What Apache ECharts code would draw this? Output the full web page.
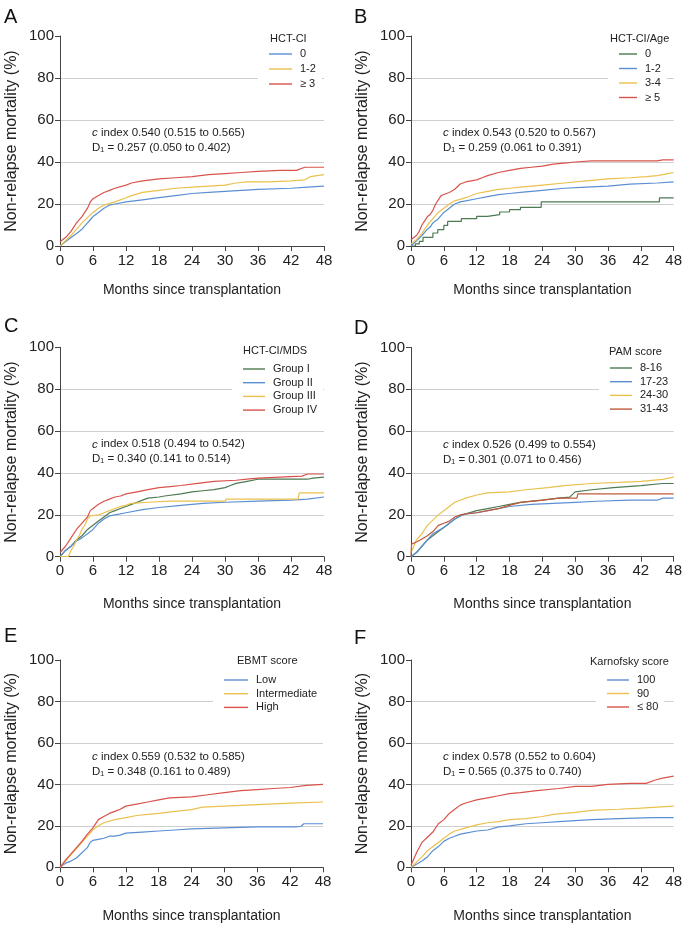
<!DOCTYPE html>
<html><head><meta charset="utf-8">
<script src="https://cdn.jsdelivr.net/npm/echarts@6/dist/echarts.min.js"></script>
<style>html,body{margin:0;padding:0;background:#fff}#c{width:685px;height:927px}</style>
</head><body><div id="c"></div>
<script>
// ---------- data (months, cumulative NRM %) ----------
const xTicks = [0, 6, 12, 18, 24, 30, 36, 42, 48];
const yTicks = [0, 20, 40, 60, 80, 100];
const panelLetters = ['A', 'B', 'C', 'D', 'E', 'F'];
const legendTitles = ['HCT-CI', 'HCT-CI/Age', 'HCT-CI/MDS', 'PAM score', 'EBMT score', 'Karnofsky score'];
const cIndexText = ['0.540 (0.515 to 0.565)', '0.543 (0.520 to 0.567)', '0.518 (0.494 to 0.542)', '0.526 (0.499 to 0.554)', '0.559 (0.532 to 0.585)', '0.578 (0.552 to 0.604)'];
const dText = ['0.257 (0.050 to 0.402)', '0.259 (0.061 to 0.391)', '0.340 (0.141 to 0.514)', '0.301 (0.071 to 0.456)', '0.348 (0.161 to 0.489)', '0.565 (0.375 to 0.740)'];

// A: HCT-CI
const A_names = ['0', '1-2', '≥ 3'];
const A_0 = [[0,0],[1,2],[2,4],[3,6],[4,8],[5,11],[5.5,12.5],[6,14],[7,16],[8,18],[9,19.5],[10,20],[12,21],[15,22],[18,23],[21,24],[24,25],[27,25.5],[30,26],[33,26.5],[36,27],[42,27.5],[45,28],[48,28.5]];
const A_12 = [[0,0],[1,2.5],[2,5],[3,8],[4,11],[5,13.5],[6,16],[7,18],[8,19.5],[10,21],[12,23],[13,24],[15,25.5],[18,26.5],[21,27.5],[24,28],[27,28.5],[30,29],[32,30],[34,30.5],[38,30.5],[42,31],[44.5,31.5],[45.5,33],[48,34]];
const A_3 = [[0,2],[1,4],[2,7],[3,11],[4,14],[5,18],[5.5,21],[6,22.5],[7,24],[8,25.5],[9,26.5],[10,27.5],[12,29],[13,30],[15,31],[18,32],[21,32.5],[24,33],[27,34],[30,34.5],[33,35],[36,35.5],[40,36],[43,36],[44.5,37.5],[48,37.5]];

// B: HCT-CI/Age
const B_names = ['0', '1-2', '3-4', '≥ 5'];
const B_0 = [[0,0],[0.8,1],[1.5,2.2],[2.2,4.1],[4,6.2],[4.9,7.8],[6,9.8],[6.7,11.7],[9.2,13],[12,14.1],[14,14.9],[16.2,16.2],[18,17.3],[20,18.4],[23.8,21],[45.4,22.9],[48,22.9]];
const B_12 = [[0,0],[1,2.5],[2,5],[3,8],[3.5,9],[4,11],[5,13],[6,16],[7,18],[7.5,19],[8,20],[9,21],[10,21.5],[12,22.5],[14,23.5],[16,24.5],[18,25],[20,25.5],[24,26.5],[28,27.5],[32,28],[36,28.5],[40,29.5],[45,30],[48,30.5]];
const B_34 = [[0,1],[1,3],[2,6],[3,10],[4,13],[5,16],[6,18],[7,20],[8,21.5],[10,23],[12,25],[14,26],[16,27],[18,27.5],[20,28],[24,29],[28,30],[32,31],[36,32],[40,32.5],[43,33],[45,33.5],[47,34.5],[48,35]];
const B_5 = [[0,3],[0.5,4],[1,5],[1.5,7],[2,10],[2.5,12],[3,14],[3.5,15],[4,17],[4.5,20],[5,22],[5.5,24],[6,24.5],[7,25.5],[8,27],[9,29.5],[10,30.5],[11,31],[12,31.5],[13,32.5],[14,33.5],[16,35],[18,36],[20,37],[22,37.5],[24,38],[26,39],[28,39.5],[30,40],[33,40.5],[45,40.5],[46,41],[48,41]];

// C: HCT-CI/MDS
const C_names = ['Group I', 'Group II', 'Group III', 'Group IV'];
const C_1 = [[0,0],[1,3],[2,5],[3,8],[4,10],[5,13],[6,15],[7,17],[8,19],[9,21],[10,22],[11,23],[12,24],[13,25],[14,26],[15,27],[16,28],[18,28.5],[19,29],[22,30],[24,31],[26,31.5],[28,32],[30,33],[31,34],[32,35],[34,36],[36,37],[45,37],[46,37.5],[48,38]];
const C_2 = [[0,0],[1,3],[2,5],[3,7.5],[4,9],[5,11],[6,13],[7,16],[8,18],[9,19.5],[10,20],[12,21],[15,22.5],[18,23.5],[22,24.5],[26,25.5],[30,26],[36,26.5],[42,27],[45,27.5],[48,28.5]];
const C_3 = [[0,0],[1.5,0],[2,3],[2.5,5],[3,8],[3.5,10],[4,13],[4.5,15],[5,18],[5.5,19.5],[7,20],[8,21],[9,22],[10,23],[11,24],[12,24.5],[13,25.5],[16,26],[20,26.5],[30,26.5],[30.2,27.5],[43.3,27.5],[43.5,30.5],[48,30.5]];
const C_4 = [[0,2],[1,5],[2,9],[3,13],[4,16],[5,19],[5.5,22],[6,23],[7,25],[8,26.5],[9,27.5],[10,28.5],[11,29],[12,30],[14,31],[16,32],[18,33],[20,33.5],[22,34],[25,35],[28,36],[32,36.5],[34,37],[36,37.5],[40,38],[44,38.5],[45,39.5],[48,39.5]];

// D: PAM score
const D_names = ['8-16', '17-23', '24-30', '31-43'];
const D_1 = [[0,0],[1,2],[2,5],[3,8],[4,10],[5,12],[6,14],[7,16],[8,18],[9,19.5],[10,20.5],[12,22],[14,23],[16,24],[18,25],[20,26],[24,27],[27,28],[29,28.5],[30,31],[33,32],[37,33],[42,34],[46,35],[48,35]];
const D_2 = [[0,0],[1,2],[2,5],[3,8],[4,11],[5,12.5],[6,14],[7,16],[8,18],[9,19.5],[10,20.5],[12,21],[15,22.5],[18,24],[22,25],[26,25.5],[30,26],[34,26.5],[40,27],[45,27],[46,28],[48,28]];
const D_3 = [[0,2],[0.5,5],[1,8],[2,11],[2.5,13],[3,15],[4,17.5],[5,20],[6,22],[7,24],[8,26],[9,27],[10,28],[12,29.5],[14,30.5],[18,31],[21,32],[25,33],[28,34],[33,35],[38,35.5],[42,36],[46,37],[48,38]];
const D_4 = [[0,0],[0.1,6],[1,7],[2,8.5],[3,10],[4,12],[5,15],[6,16],[7,17],[8,19],[9,20],[10,20.5],[12,21],[14,22],[16,23],[18,24.5],[20,26],[24,27],[27,28],[30.3,28],[30.5,30],[48,30]];

// E: EBMT score
const E_names = ['Low', 'Intermediate', 'High'];
const E_low = [[0,0],[1,2],[2,3],[3,4.5],[4,7],[5,9.5],[5.5,12],[6,13],[7,13.5],[8,14],[9,15],[10,15],[11,15.5],[12,16.5],[15,17],[18,17.5],[21,18],[24,18.5],[30,19],[36,19.5],[43,19.5],[44,19.8],[44.5,21],[48,21]];
const E_int = [[0,0],[1,3],[2,6],[3,9],[4,12],[5,15],[6,18],[7,20],[8,21.5],[10,23],[12,24],[14,25],[16,25.5],[18,26],[21,27],[24,27.8],[26,29],[30,29.5],[34,30],[38,30.5],[42,31],[48,31.5]];
const E_high = [[0,0],[1,3.5],[2,6.5],[3,9.5],[4,12.5],[5,16],[6,19],[7,23],[8,24.5],[9,26],[10,27],[11,28],[12,29.5],[14,30.5],[16,31.5],[18,32.5],[20,33.5],[24,34],[27,35],[30,36],[33,37],[36,37.5],[39,38],[42,38.5],[45,39.5],[48,40]];

// F: Karnofsky score
const F_names = ['100', '90', '≤ 80'];
const F_100 = [[0,0],[1,1.5],[2,3],[3,5],[4,8],[5,10],[6,12.5],[7,14],[8,15],[9,16],[10,16.5],[12,17.5],[14,18],[16,19.5],[18,20],[21,21],[24,21.5],[27,22],[30,22.5],[33,23],[38,23.5],[44,24],[48,24]];
const F_90 = [[0,0],[1,2.5],[2,5],[3,8],[4,10],[5,12],[6,14],[7,16],[8,17.5],[10,19],[12,20.5],[14,21.5],[16,22],[18,23],[21,23.5],[24,24.5],[26,25.5],[28,26],[30,26.5],[33,27.5],[38,28],[42,28.5],[45,29],[48,29.5]];
const F_80 = [[0,1],[0.5,4],[1,7],[2,12],[3,14.5],[4,17],[5,21],[6,23],[7,26],[8,28],[9,30],[10,31],[12,32.5],[14,33.5],[16,34.5],[18,35.5],[20,36],[23,37],[27,38],[30,39],[33,39],[36,40],[40,40.5],[43,40.5],[44.5,42],[46,43],[48,44]];

// ---------- styling ----------
const BLUE = '#5b8fd3', YEL = '#e9c14c', RED = '#d9534c', GRN = '#4d7a52', BRN = '#c2593a';
const FONT = '"Liberation Sans", Arial, sans-serif';
const ZW = '\u200B';

const panels = [
  { series: [[A_names[0], A_0, BLUE], [A_names[1], A_12, YEL], [A_names[2], A_3, RED]] },
  { series: [[B_names[0] + ZW, B_0, GRN, 'end'], [B_names[1] + ZW, B_12, BLUE], [B_names[2], B_34, YEL], [B_names[3], B_5, RED]] },
  { series: [[C_names[0], C_1, GRN], [C_names[1], C_2, BLUE], [C_names[2], C_3, YEL], [C_names[3], C_4, RED]] },
  { series: [[D_names[0], D_1, GRN], [D_names[1], D_2, BLUE], [D_names[2], D_3, YEL], [D_names[3], D_4, BRN]] },
  { series: [[E_names[0], E_low, BLUE], [E_names[1], E_int, YEL], [E_names[2], E_high, RED]] },
  { series: [[F_names[0], F_100, BLUE], [F_names[1], F_90, YEL], [F_names[2], F_80, RED]] }
];

const grids = [
  { left: 60, top: 36, width: 264, height: 210 },
  { left: 411, top: 36, width: 263, height: 210 },
  { left: 60, top: 347.3, width: 264, height: 209.4 },
  { left: 411, top: 347.5, width: 263, height: 209.2 },
  { left: 60, top: 660, width: 263, height: 207.3 },
  { left: 411, top: 660, width: 263, height: 207.3 }
];
const xNameGap = [37, 37, 40, 40, 42, 42];
// legend box placement
const legendLayout = [
  { left: 258, row1: 54, gap: 4, iw: 23, titleX: 270, titleY: 40 },
  { left: 608, row1: 54, gap: 3.5, iw: 18, titleX: 610, titleY: 40 },
  { left: 232, row1: 369, gap: 2.7, iw: 22, titleX: 243, titleY: 352 },
  { left: 599, row1: 368, gap: 2.7, iw: 22, titleX: 609, titleY: 353 },
  { left: 213, row1: 680, gap: 2.7, iw: 24, titleX: 237, titleY: 662 },
  { left: 596, row1: 680, gap: 2.5, iw: 22, titleX: 590, titleY: 663 }
];
const letterPos = [[4, 7], [354, 7], [4, 316], [354, 318], [4, 626], [354, 628]];

const xAxis = [], yAxis = [], series = [], legend = [], graphic = [];
grids.forEach((g, i) => {
  xAxis.push({
    type: 'value', gridIndex: i, min: 0, max: 48, interval: 6,
    name: 'Months since transplantation', nameLocation: 'middle', nameGap: xNameGap[i],
    nameTextStyle: { fontFamily: FONT, fontSize: 14, color: '#222' },
    axisLine: { lineStyle: { color: '#444', width: 1 } },
    axisTick: { length: 5, lineStyle: { color: '#444' } },
    axisLabel: { fontFamily: FONT, fontSize: 15, color: '#222', margin: 7 },
    splitLine: { show: false }
  });
  yAxis.push({
    type: 'value', gridIndex: i, min: 0, max: 100, interval: 20,
    name: 'Non-relapse mortality (%)', nameLocation: 'middle', nameGap: 40, nameRotate: 90,
    nameTextStyle: { fontFamily: FONT, fontSize: 16, color: '#222' },
    axisLine: { show: true, lineStyle: { color: '#444', width: 1 } },
    axisTick: { show: true, length: 5, lineStyle: { color: '#444' } },
    axisLabel: { fontFamily: FONT, fontSize: 15, color: '#222', margin: 6 },
    splitLine: { show: true, lineStyle: { color: ['#cfcfcf', '#cfcfcf', '#cfcfcf', '#cfcfcf', '#cfcfcf', 'rgba(0,0,0,0)'], width: 1 } }
  });
  const names = [];
  panels[i].series.forEach(s => {
    names.push(s[0]);
    const o = {
      type: 'line', name: s[0], xAxisIndex: i, yAxisIndex: i, data: s[1],
      symbol: 'none', showSymbol: false, silent: true,
      lineStyle: { color: s[2], width: 1.2 }, itemStyle: { color: s[2] }
    };
    if (s[3]) o.step = s[3];
    series.push(o);
  });
  const L = legendLayout[i];
  legend.push({
    orient: 'vertical', left: L.left, top: L.row1 - 7.5, itemWidth: L.iw, itemHeight: 1.4, itemGap: L.gap,
    icon: 'rect',
    padding: [2, 6, 2, 11], backgroundColor: '#fff', selectedMode: false,
    data: names, formatter: n => n.replace(/\u200B/g, ''),
    textStyle: { fontFamily: FONT, fontSize: 11, lineHeight: 11, color: '#222', padding: [0, 0, 0, 3] }
  });
  graphic.push({
    type: 'text', left: L.titleX, top: L.titleY - 7, z: 100,
    style: { text: legendTitles[i], font: '11px ' + FONT, fill: '#222' }
  });
  graphic.push({
    type: 'text', left: letterPos[i][0], top: letterPos[i][1], z: 100,
    style: { text: panelLetters[i], font: '20px ' + FONT, fill: '#111' }
  });
  graphic.push({
    type: 'text', left: g.left + 32, top: g.top + 91, z: 100,
    style: {
      text: '{i|c} index ' + cIndexText[i], font: '11.5px ' + FONT, fill: '#222',
      rich: { i: { fontStyle: 'italic', fontFamily: FONT, fontSize: 11.5, fill: '#222' } }
    }
  });
  graphic.push({
    type: 'text', left: g.left + 32, top: g.top + 106, z: 100,
    style: { text: 'D\u2081 = ' + dText[i], font: '11.5px ' + FONT, fill: '#222' }
  });
});

const chart = echarts.init(document.getElementById('c'), null, { renderer: 'canvas' });
chart.setOption({
  animation: false,
  backgroundColor: '#fff',
  grid: grids.map(g => Object.assign({ containLabel: false }, g)),
  xAxis, yAxis, series, legend, graphic
});
</script></body></html>
